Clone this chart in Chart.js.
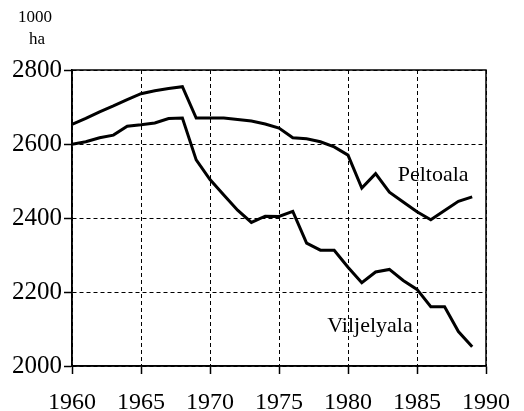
<!DOCTYPE html>
<html>
<head>
<meta charset="utf-8">
<script src="https://cdn.jsdelivr.net/npm/chart.js@4"></script>
<style>
  html, body { margin: 0; padding: 0; background: #fff; }
</style>
</head>
<body>
<canvas id="grafico" width="524" height="411"></canvas>
<script>
// vuodet (x-akseli)
const vuodet = [1960, 1961, 1962, 1963, 1964, 1965, 1966, 1967, 1968, 1969,
                1970, 1971, 1972, 1973, 1974, 1975, 1976, 1977, 1978, 1979,
                1980, 1981, 1982, 1983, 1984, 1985, 1986, 1987, 1988, 1989];
// 1000 ha
const peltoala = [2653, 2669, 2687, 2703, 2720, 2736, 2744, 2750, 2755, 2670,
                  2670, 2670, 2666, 2662, 2654, 2643, 2617, 2614, 2606, 2592,
                  2570, 2481, 2520, 2470, 2443, 2417, 2395, 2420, 2445, 2457];
const viljelyala = [2599, 2606, 2617, 2624, 2648, 2652, 2657, 2669, 2670, 2557,
                    2504, 2462, 2421, 2388, 2405, 2404, 2418, 2332, 2313, 2313,
                    2267, 2225, 2254, 2261, 2231, 2207, 2160, 2160, 2093, 2052];
const xTicks = [1960, 1965, 1970, 1975, 1980, 1985, 1990];
const yTicks = [2000, 2200, 2400, 2600, 2800];
const yksikko = ["1000", "ha"];
const sarjaNimet = ["Peltoala", "Viljelyala"];
// nimien paikat (data-arvoina)
const nimiPaikat = [[1983.6, 2516], [1978.5, 2108]];

const fontti = "'Liberation Serif', serif";
Chart.defaults.font.family = fontti;
Chart.defaults.color = '#000';

function pisteet(arvot) {
    return vuodet.map((v, i) => ({ x: v, y: arvot[i] }));
}

// kehys + tekstit
const kehys = {
    id: 'kehys',
    beforeDatasetsDraw(chart) {
        const { ctx, chartArea: a } = chart;
        ctx.save();
        ctx.strokeStyle = '#000';
        ctx.lineWidth = 1.5;
        ctx.strokeRect(a.left, a.top, a.right - a.left, a.bottom - a.top);
        ctx.restore();
    },
    afterDraw(chart) {
        const { ctx } = chart;
        const x = chart.scales.x, y = chart.scales.y;
        ctx.save();
        ctx.fillStyle = '#000';
        ctx.textAlign = 'center';
        ctx.textBaseline = 'middle';
        ctx.font = "17px " + fontti;
        ctx.fillText(yksikko[0], 35, 18);
        ctx.fillText(yksikko[1], 37, 40);
        ctx.font = "22px " + fontti;
        ctx.textAlign = 'left';
        sarjaNimet.forEach((n, i) => {
            ctx.fillText(n, x.getPixelForValue(nimiPaikat[i][0]), y.getPixelForValue(nimiPaikat[i][1]));
        });
        ctx.restore();
    }
};

const ctx = document.getElementById('grafico').getContext('2d');
new Chart(ctx, {
    type: 'line',
    data: {
        datasets: [
            { label: sarjaNimet[0], data: pisteet(peltoala), borderColor: '#000', borderWidth: 3, pointRadius: 0, tension: 0, fill: false },
            { label: sarjaNimet[1], data: pisteet(viljelyala), borderColor: '#000', borderWidth: 3, pointRadius: 0, tension: 0, fill: false }
        ]
    },
    options: {
        responsive: false,
        animation: false,
        devicePixelRatio: 1,
        layout: { padding: { left: 0, right: 37, top: 70, bottom: 0 } },
        plugins: { legend: { display: false }, tooltip: { enabled: false } },
        scales: {
            x: {
                type: 'linear', min: 1960, max: 1990,
                afterBuildTicks: s => { s.ticks = xTicks.map(v => ({ value: v })); },
                ticks: { color: '#000', font: { family: fontti, size: 24 }, padding: 14, maxRotation: 0, callback: v => String(v) },
                grid: { color: '#000', lineWidth: 1, tickLength: 8, tickColor: '#000', tickWidth: 1.5 },
                border: { color: '#000', width: 1.5, dash: [4, 3] },
                afterFit: s => { s.height = 45; }
            },
            y: {
                type: 'linear', min: 2000, max: 2800,
                afterBuildTicks: s => { s.ticks = yTicks.map(v => ({ value: v })); },
                ticks: { color: '#000', font: { family: fontti, size: 25 }, padding: 2, callback: v => String(v) },
                grid: { color: '#000', lineWidth: 1, tickLength: 8, tickColor: '#000', tickWidth: 1.5 },
                border: { color: '#000', width: 1.5, dash: [4, 3] },
                afterFit: s => { s.width = 72; }
            }
        }
    },
    plugins: [kehys]
});
</script>
</body>
</html>
